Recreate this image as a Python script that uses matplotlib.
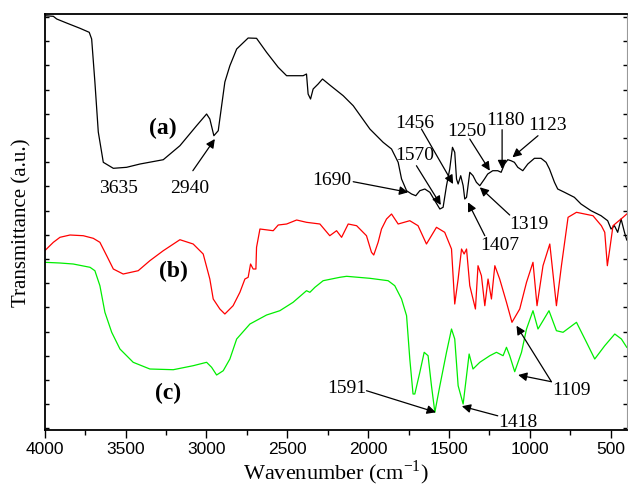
import numpy as np
import matplotlib
matplotlib.use("Agg")
import matplotlib.pyplot as plt
from matplotlib.ticker import MultipleLocator

# --- spectra (wavenumber cm-1, transmittance a.u.) ---
wn_a = [4000, 3947, 3926, 3865, 3782, 3725, 3710, 3690, 3669, 3638, 3576, 3494, 3411,
        3267, 3164, 3061, 2999, 2979, 2954, 2927, 2906, 2886, 2855, 2813, 2742, 2690,
        2628, 2556, 2504, 2402, 2381, 2371, 2356, 2340, 2309, 2282, 2237, 2154, 2092,
        1989, 1907, 1855, 1814, 1793, 1762, 1731, 1705, 1680, 1649, 1618, 1587, 1556,
        1536, 1515, 1495, 1478, 1464, 1453, 1443, 1427, 1412, 1402, 1391, 1371, 1351,
        1330, 1309, 1280, 1260, 1229, 1198, 1177, 1156, 1136, 1116, 1095, 1074, 1043,
        1012, 971, 930, 899, 878, 847, 827, 785, 724, 683, 621, 559, 518, 497, 476,
        456, 435, 414, 400]
t_a = [414.3, 413.7, 411, 407, 401.7, 397.7, 391, 348, 298, 267.7, 261.7, 262.7, 266,
       270.3, 284.3, 304.3, 316, 311, 294.3, 299.3, 324.3, 348, 364.3, 381, 392, 391.7,
       377.7, 362.7, 354.3, 354.3, 356, 336, 331, 341, 346, 351, 345, 334.3, 324.3,
       301, 287.7, 281, 267.7, 251, 239.3, 236, 234.3, 239.3, 241, 237.7, 229.3, 221,
       222.7, 244.3, 261, 282.7, 277.7, 251, 246, 254.3, 244.3, 231, 232.7, 257.7, 254.3,
       247.7, 244.3, 251, 256, 259.3, 259.3, 257.7, 266, 270.3, 269.3, 267.7, 262.7, 259.3,
       266, 271.7, 271.7, 267.7, 261, 247.7, 241, 237.7, 232.7, 226, 219.3, 214.3, 209.3, 201, 204.3,
       197.7, 211, 197.7, 190]

wn_b = [4000, 3947, 3906, 3844, 3762, 3700, 3659, 3617, 3576, 3515, 3422, 3350, 3267,
        3164, 3082, 3020, 2979, 2958, 2917, 2886, 2835, 2793, 2762, 2742, 2727, 2711,
        2694, 2690, 2669, 2587, 2556, 2504, 2442, 2381, 2298, 2237, 2195, 2164, 2123,
        2071, 2010, 1979, 1965, 1938, 1917, 1886, 1855, 1814, 1742, 1691, 1639, 1577,
        1526, 1484, 1464, 1443, 1422, 1406, 1391, 1371, 1336, 1320, 1299, 1278, 1258,
        1237, 1216, 1186, 1144, 1110, 1062, 1020, 980, 955, 918, 876, 835, 804, 763,
        711, 609, 557, 536, 520, 505, 485, 423, 400]
t_b = [179.3, 187.7, 192.7, 195, 194.3, 191.7, 187.7, 174.3, 161, 156, 159.3, 169.3, 179.3,
       190.3, 186, 176, 151, 131, 121, 116, 124.3, 137.7, 151, 152.7, 166, 161,
       161, 182.7, 201, 199.3, 205, 206, 210, 207.7, 206, 194.3, 199.3, 192.7, 206,
       204.3, 194.3, 177.7, 175, 187.7, 201, 211, 216, 206, 209.3, 204.3, 186, 202.7,
       197.7, 181, 126, 151, 181, 176, 181, 144.3, 121, 164.3, 154.3, 124.3, 151,
       131, 164.3, 151, 127.7, 107.7, 121, 147.7, 167.7, 124.3, 164.3, 186, 124.3, 164.3, 212.7,
       217.7, 214.3, 204.3, 197.7, 164.3, 181, 204.3, 212.7, 216]

wn_c = [4000, 3906, 3824, 3720, 3690, 3659, 3628, 3586, 3535, 3453, 3350, 3205, 3082,
        2999, 2968, 2937, 2896, 2855, 2813, 2731, 2628, 2546, 2464, 2381, 2360, 2329,
        2278, 2175, 2133, 1989, 1876, 1835, 1793, 1762, 1742, 1722, 1711, 1680, 1653,
        1629, 1608, 1587, 1556, 1515, 1484, 1464, 1443, 1412, 1391, 1375, 1351, 1309,
        1247, 1206, 1165, 1144, 1124, 1093, 1051, 1020, 980, 949, 918, 881, 835, 794,
        711, 649, 598, 536, 474, 433, 400]
t_c = [167.7, 167, 166, 162.7, 159.3, 144.3, 117.7, 97.7, 81, 67.7, 61, 60.3, 64.3,
       67.7, 62.7, 55, 59.3, 71, 91, 106, 115, 119.3, 127.7, 139.3, 137.7, 142.7,
       149.3, 152.7, 153.7, 151.7, 149.3, 144.3, 131, 114.3, 71, 36, 36, 57.7, 77.7,
       74.3, 44.3, 17.7, 44.3, 77.7, 101, 91, 44.3, 26, 54.3, 76, 61, 67.7,
       74.3, 77.7, 74.3, 82.7, 74.3, 58.3, 77.7, 101, 119.3, 101, 109.3, 119.3, 99.3, 97.7,
       107.7, 87.7, 71, 84.3, 96, 91, 82.7]

# curve labels
curve_names = ["(a)", "(b)", "(c)"]
curve_name_pos = [(3267, 302.7), (3205, 159.3), (3236, 37.7)]

# peak labels: text, text position, list of (arrow tail, arrow tip)
peak_text = ["3635", "2940", "1690", "1570", "1456", "1250", "1180", "1123",
             "1319", "1407", "1109", "1591", "1418"]
peak_text_pos = [(3543, 242.7), (3102, 242.7), (2224, 251), (1711, 276), (1711, 307.7),
                 (1391, 299.3), (1150, 310.3), (887, 306), (1004, 207), (1186, 186),
                 (742, 41), (2133, 42.7), (1074, 9)]
peak_arrows = [[],
               [((3084, 259.3), (2948, 291))],
               [((2092, 248.3), (1752, 237.7))],
               [((1701, 264.3), (1550, 225))],
               [((1670, 301), (1474, 246))],
               [((1371, 291), (1247, 259.3))],
               [((1171, 300.3), (1171, 261))],
               [((949, 294.3), (1107, 272.7))],
               [((1124, 215), (1309, 242.7))],
               [((1278, 194.3), (1382, 227.7))],
               [((866, 48.3), (1082, 104.3)), ((866, 48.3), (1072, 55))],
               [((2010, 39.3), (1581, 17.7))],
               [((1198, 14.2), (1420, 23.8))]]

serif = ["Liberation Serif", "DejaVu Serif"]
sans = ["Liberation Sans", "DejaVu Sans"]

fig = plt.figure(figsize=(6.28, 4.89), dpi=100)
ax = fig.add_axes([0.0713, 0.1186, 0.9267, 0.8507])

ax.plot(wn_a, t_a, color="black", lw=0.9)
ax.plot(wn_b, t_b, color="#ff0000", lw=0.9)
ax.plot(wn_c, t_c, color="#00ee00", lw=0.9)

for name, (x, y) in zip(curve_names, curve_name_pos):
    ax.text(x, y, name, family=serif, fontsize=17, fontweight="bold",
            ha="center", va="center")

for txt, (x, y), arrows in zip(peak_text, peak_text_pos, peak_arrows):
    ax.text(x, y, txt, family=serif, fontsize=14, ha="center", va="center")
    for tail, tip in arrows:
        ax.annotate("", xy=tip, xytext=tail,
                    arrowprops=dict(arrowstyle="-|>", color="black", lw=0.9,
                                    mutation_scale=13, shrinkA=0, shrinkB=0))

ax.set_xlim(4000, 400)
ax.set_ylim(0, 416)
ax.xaxis.set_major_locator(MultipleLocator(500))
ax.xaxis.set_minor_locator(MultipleLocator(250))
ax.set_yticks(np.arange(1.6, 416, 24.2))
ax.set_yticklabels([])
ax.tick_params(axis="x", which="major", direction="out", length=6, width=1,
               labelsize=12.5, pad=2, top=False)
ax.tick_params(axis="x", which="minor", direction="out", length=3.5, width=1, top=False)
ax.tick_params(axis="y", which="major", direction="in", length=3, width=1, right=True)
for lab in ax.get_xticklabels():
    lab.set_family(sans)
for s in ["left", "bottom", "top"]:
    ax.spines[s].set_linewidth(1.3)
ax.spines["right"].set_color("#999999")

ax.set_xlabel("Wavenumber (cm$^{\\mathregular{-1}}$)", family=serif, fontsize=16,
              labelpad=1)
ax.set_ylabel("Transmittance (a.u.)", family=serif, fontsize=15, labelpad=6)

fig.savefig("out.png", dpi=100)
